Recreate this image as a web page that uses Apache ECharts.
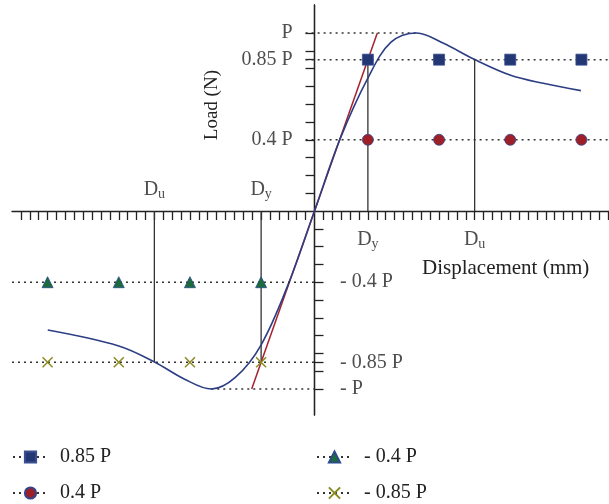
<!DOCTYPE html>
<html>
<head>
<meta charset="utf-8">
<script src="https://cdn.jsdelivr.net/npm/echarts@6/dist/echarts.min.js"></script>
<style>
html,body{margin:0;padding:0;background:#fff;}
#c{width:609px;height:504px;}
</style>
</head>
<body>
<div id="c"></div>
<script>
// ---- data (x in displacement units, y in multiples of P) ----
const xTicks = [];
for (let i = -33; i <= 33; i++) { if (i !== 0) xTicks.push(i); }
const yTicksPos = [0.1, 0.2, 0.3, 0.4, 0.5, 0.6, 0.7, 0.8, 0.85, 0.9, 1.0];
const yTicksNeg = [-0.1, -0.2, -0.3, -0.4, -0.5, -0.6, -0.7, -0.8, -0.85, -0.9, -1.0];
const yLabelValsPos = [0.4, 0.85, 1];
const yLabelTextPos = ['0.4 P', '0.85 P', 'P'];
const yLabelValsNeg = [-0.4, -0.85, -1];
const yLabelTextNeg = ['- 0.4 P', '- 0.85 P', '- P'];

const posMarkerX = [6, 14, 22, 30];
const negMarkerX = [-30, -22, -14, -6];
const seriesNames = ['0.85 P', '0.4 P', '- 0.4 P', '- 0.85 P'];
const seriesLevels = [0.85, 0.4, -0.4, -0.85];

const Dy = 6, Du = 18;
const peakX = 11.5, troughX = -11.6;

const curveLeft = [[-29.98,-0.669],[-22,-0.758],[-18.03,-0.847],[-14.6,-0.945],[-11.6,-1.0],[-8.9,-0.935],[-6.01,-0.753],[-2.9,-0.405],[0,0]];
const curveRight = [[2.9,0.408],[6.04,0.751],[8.6,0.948],[11.5,1.0],[14.5,0.942],[17.96,0.852],[21.97,0.764],[25.71,0.717],[29.94,0.676]];
const stiffLine = [[-7.06,-1],[7.06,1]];

const dLabels = [[-Du, 0.118, 'u'], [-Dy, 0.118, 'y'], [Dy, -0.163, 'y'], [Du, -0.163, 'u']];

// ---- styling ----
const FONT = "'Liberation Serif', 'DejaVu Serif', serif";
const AX = '#222';
const dotted = { color: '#333', width: 1.5, type: [2, 4] };
const symbols = ['rect', 'circle', 'triangle', 'path://M0,0L10,10M10,0L0,10'];
const fills = ['#243775', '#9e1f27', '#1c6b3c', '#8b8b22'];
const borders = ['#3a4f8f', '#34458a', '#2a4a8a', '#8b8b22'];
const sizes = [11, 11, 11, 10];

const series = [];
// P and -P dotted guides
series.push({ type: 'line', silent: true, symbol: 'none', lineStyle: dotted, data: [[-1, 1], [peakX, 1]], z: 1 });
series.push({ type: 'line', silent: true, symbol: 'none', lineStyle: dotted, data: [[troughX, -1], [0, -1]], z: 1 });
// vertical Dy / Du lines
[[Dy, 0.85], [Du, 0.85], [-Dy, -0.85], [-Du, -0.85]].forEach(function (p) {
  series.push({ type: 'line', silent: true, symbol: 'none', lineStyle: { color: '#333', width: 1.3 }, data: [[p[0], 0], [p[0], p[1]]], z: 2 });
});
// initial stiffness line
series.push({ type: 'line', silent: true, symbol: 'none', lineStyle: { color: '#a3202e', width: 1.5 }, data: stiffLine, z: 3 });
// load-displacement curve
series.push({ type: 'line', silent: true, symbol: 'none', smooth: 0.35, lineStyle: { color: '#2c3e84', width: 1.6 }, data: curveLeft.concat(curveRight), z: 4 });
// marker series
seriesNames.forEach(function (name, i) {
  const lvl = seriesLevels[i];
  const xs = lvl > 0 ? posMarkerX : negMarkerX;
  const data = [];
  if (lvl > 0) data.push({ value: [-1, lvl], symbol: 'none' });
  else data.push({ value: [-34, lvl], symbol: 'none' });
  xs.forEach(function (x) { data.push([x, lvl]); });
  if (lvl > 0) data.push({ value: [33.1, lvl], symbol: 'none' });
  else data.push({ value: [0, lvl], symbol: 'none' });
  series.push({
    type: 'line', name: name, silent: true, symbol: symbols[i], symbolSize: sizes[i],
    lineStyle: dotted,
    itemStyle: { color: fills[i], borderColor: borders[i], borderWidth: i === 3 ? 1.5 : 0.8 },
    data: data, z: 5
  });
});
// D labels
series.push({
  type: 'scatter', silent: true, symbolSize: 1, itemStyle: { color: 'rgba(0,0,0,0)' },
  data: dLabels.map(function (d) { return { value: [d[0], d[1]], sub: d[2] }; }),
  label: {
    show: true, position: 'inside', color: '#222', fontFamily: FONT,
    formatter: function (p) { return '{d|D}{s|' + p.data.sub + '}'; },
    rich: {
      d: { fontSize: 20, lineHeight: 22, fontFamily: FONT, color: '#222' },
      s: { fontSize: 14, lineHeight: 12, verticalAlign: 'bottom', fontFamily: FONT, color: '#222' }
    }
  },
  z: 6
});
// Load-axis tick labels (drawn at the axis, x = 0)
series.push({
  type: 'scatter', silent: true, symbolSize: 1, itemStyle: { color: 'rgba(0,0,0,0)' },
  data: yLabelValsPos.map(function (v, k) { return { value: [0, v], txt: yLabelTextPos[k] }; }),
  label: { show: true, position: 'left', distance: 21.5, fontSize: 20, fontFamily: FONT, color: '#222',
    formatter: function (p) { return p.data.txt; } },
  z: 6
});
series.push({
  type: 'scatter', silent: true, symbolSize: 1, itemStyle: { color: 'rgba(0,0,0,0)' },
  data: yLabelValsNeg.map(function (v, k) { return { value: [0, v], txt: yLabelTextNeg[k] }; }),
  label: { show: true, position: 'right', distance: 25, fontSize: 20, fontFamily: FONT, color: '#222',
    formatter: function (p) { return p.data.txt; } },
  z: 6
});

const legendCommon = {
  orient: 'vertical', itemWidth: 35, itemHeight: 14, itemGap: 16, padding: 0, height: 80,
  textStyle: { fontFamily: FONT, fontSize: 20, color: '#222', padding: [0, 0, 0, 7] },
  selectedMode: false
};

const option = {
  animation: false,
  backgroundColor: '#fff',
  grid: { left: 12, right: 0, top: 5, bottom: 89, containLabel: false, outerBoundsMode: 'none' },
  xAxis: {
    type: 'value', min: -34, max: 33.1,
    axisLine: { onZero: true, lineStyle: { color: AX, width: 1.3 } },
    axisTick: { show: true, customValues: xTicks, length: 9, lineStyle: { color: AX, width: 1.3 } },
    axisLabel: { show: false },
    splitLine: { show: false }
  },
  yAxis: [
    {
      type: 'value', position: 'left', min: -1.146, max: 1.157,
      axisLine: { show: true, onZero: true, onZeroAxisIndex: 0, lineStyle: { color: AX, width: 1.3 } },
      axisTick: { show: true, customValues: yTicksPos, length: 9, lineStyle: { color: AX, width: 1.3 } },
      axisLabel: { show: false },
      splitLine: { show: false }
    },
    {
      type: 'value', position: 'right', min: -1.146, max: 1.157,
      axisLine: { show: true, onZero: true, onZeroAxisIndex: 0, lineStyle: { color: AX, width: 1.3 } },
      axisTick: { show: true, customValues: yTicksNeg, length: 9, lineStyle: { color: AX, width: 1.3 } },
      axisLabel: { show: false },
      splitLine: { show: false }
    }
  ],
  legend: [
    Object.assign({}, legendCommon, { left: 12, top: 447, data: ['0.85 P', '0.4 P'] }),
    Object.assign({}, legendCommon, { left: 316, top: 447, data: ['- 0.4 P', '- 0.85 P'] })
  ],
  graphic: [
    { type: 'text', left: 203, top: 70, rotation: Math.PI / 2, style: { text: 'Load (N)', font: '19px ' + FONT, fill: '#222' } },
    { type: 'text', left: 422, top: 258, style: { text: 'Displacement (mm)', font: '21px ' + FONT, fill: '#222' } }
  ],
  series: series
};

const chart = echarts.init(document.getElementById('c'), null, { renderer: 'canvas' });
chart.setOption(option);
</script>
</body>
</html>
